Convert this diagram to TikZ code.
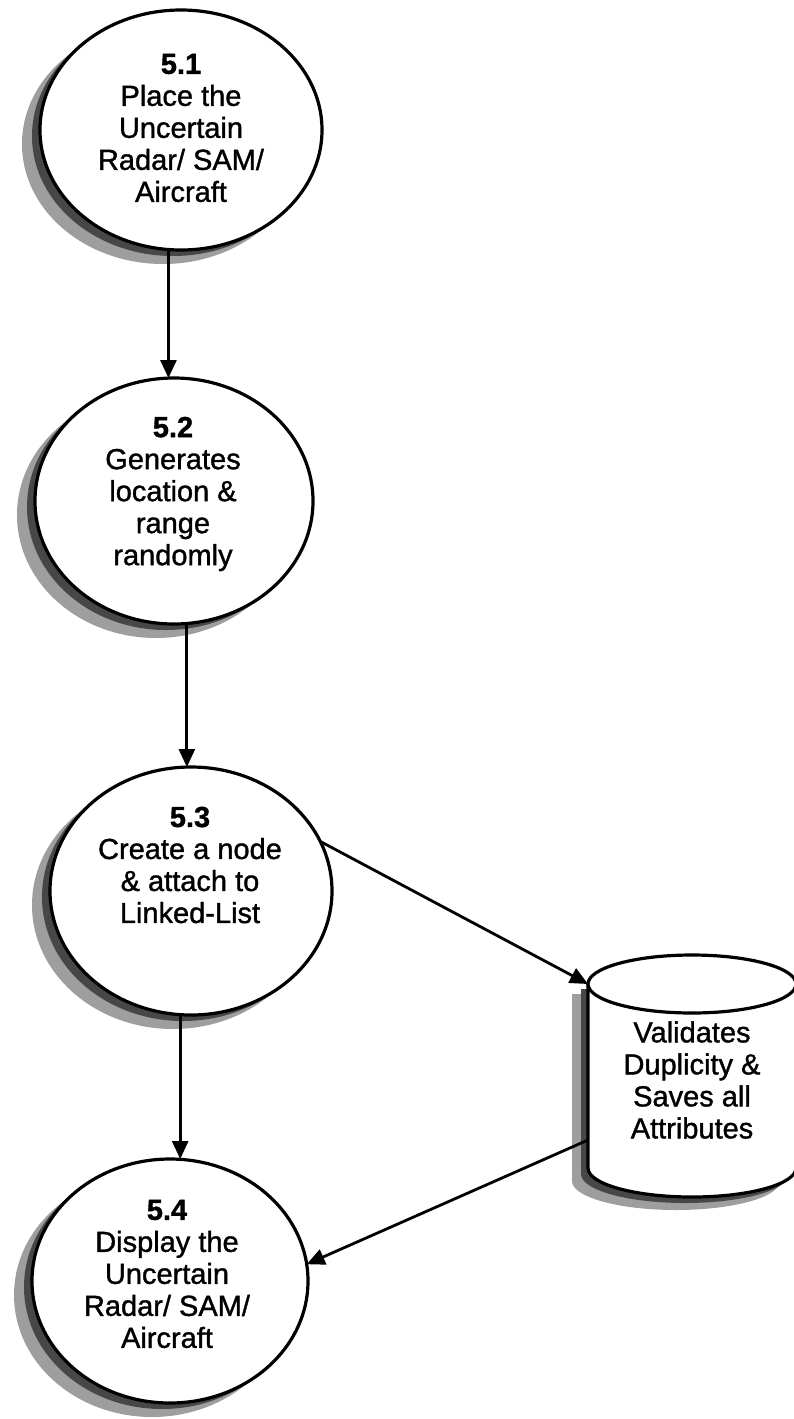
\documentclass[tikz,border=0pt]{standalone}
\usepackage{fontspec}
\setmainfont{Liberation Sans}[UprightFeatures={FakeBold=1.2}, BoldFeatures={FakeBold=1.2}]
\usetikzlibrary{arrows.meta,shapes.geometric,shadows}

\begin{document}
\begin{tikzpicture}[x=1pt,y=-1pt,
  proc/.style={ellipse, draw=black, line width=3.2pt, fill=white,
    inner sep=0pt, outer sep=0pt,
    general shadow={shadow xshift=-18pt, shadow yshift=-14pt, fill=black!38},
    general shadow={shadow xshift=-8pt, shadow yshift=-6pt, fill=black!72}},
  lbl/.style={align=center, font=\fontsize{29}{32}\selectfont, inner sep=0pt},
  flow/.style={draw=black, line width=2.8pt, -{Triangle[length=18pt,width=16pt]}},
  cyl/.style={draw=black, line width=3.2pt},
]
% page
\fill[white] (0,0) rectangle (794,1419);
\useasboundingbox (0,0) rectangle (794,1419);

% processes
\node[proc, minimum width=282pt, minimum height=240pt] (p1) at (181,130) {};
\node[proc, minimum width=278pt, minimum height=246pt] (p2) at (174,501) {};
\node[proc, minimum width=282pt, minimum height=248pt] (p3) at (191,891) {};
\node[proc, minimum width=276pt, minimum height=244pt] (p4) at (170,1281) {};

\node[lbl] (t1) at (181,128) {\textbf{5.1}\\Place the\\Uncertain\\Radar/ SAM/\\Aircraft};
\node[lbl] (t2) at (173,494) {\textbf{5.2}\\Generates\\location \&\\range\\randomly};
\node[lbl] (t3) at (190,865) {\textbf{5.3}\\Create a node\\\& attach to\\Linked-List};
\node[lbl] (t4) at (167,1274) {\textbf{5.4}\\Display the\\Uncertain\\Radar/ SAM/\\Aircraft};

% data store (cylinder)
\node[inner sep=0pt, outer sep=0pt, minimum width=208pt, minimum height=184pt] (db) at (692,1076) {};
\fill[black!38] ([shift={(-16pt,-10pt)}]db.north west) -- ([shift={(-16pt,-13pt)}]db.south west)
  arc[start angle=180, end angle=360, x radius=104pt, y radius=29pt]
  -- ([shift={(-16pt,-10pt)}]db.north east) -- cycle;
\fill[black!72] ([shift={(-7pt,-5pt)}]db.north west) -- ([shift={(-7pt,-6pt)}]db.south west)
  arc[start angle=180, end angle=360, x radius=104pt, y radius=29pt]
  -- ([shift={(-7pt,-5pt)}]db.north east) -- cycle;
\fill[white] (db.north west) -- (db.south west)
  arc[start angle=180, end angle=360, x radius=104pt, y radius=29pt]
  -- (db.north east) -- cycle;
\draw[cyl] (db.north west) -- (db.south west)
  arc[start angle=180, end angle=360, x radius=104pt, y radius=29pt]
  -- (db.north east);
\draw[cyl, fill=white] (db.north) ellipse[x radius=104pt, y radius=29pt];
\node[lbl] (dbtext) at ([yshift=-4pt]db.center) {Validates\\Duplicity \&\\Saves all\\Attributes};

% flows
\draw[flow] (p1.264) -- (p1.264 |- p2.north);
\draw[flow] (p2.276) -- (p2.276 |- p3.north);
\draw[flow] (p3.265) -- (p3.265 |- p4.north);
\draw[flow] (p3.21) -- (db.north west);
\draw[flow] ([yshift=28pt]db.south west) -- (p4.7);
\end{tikzpicture}
\end{document}
